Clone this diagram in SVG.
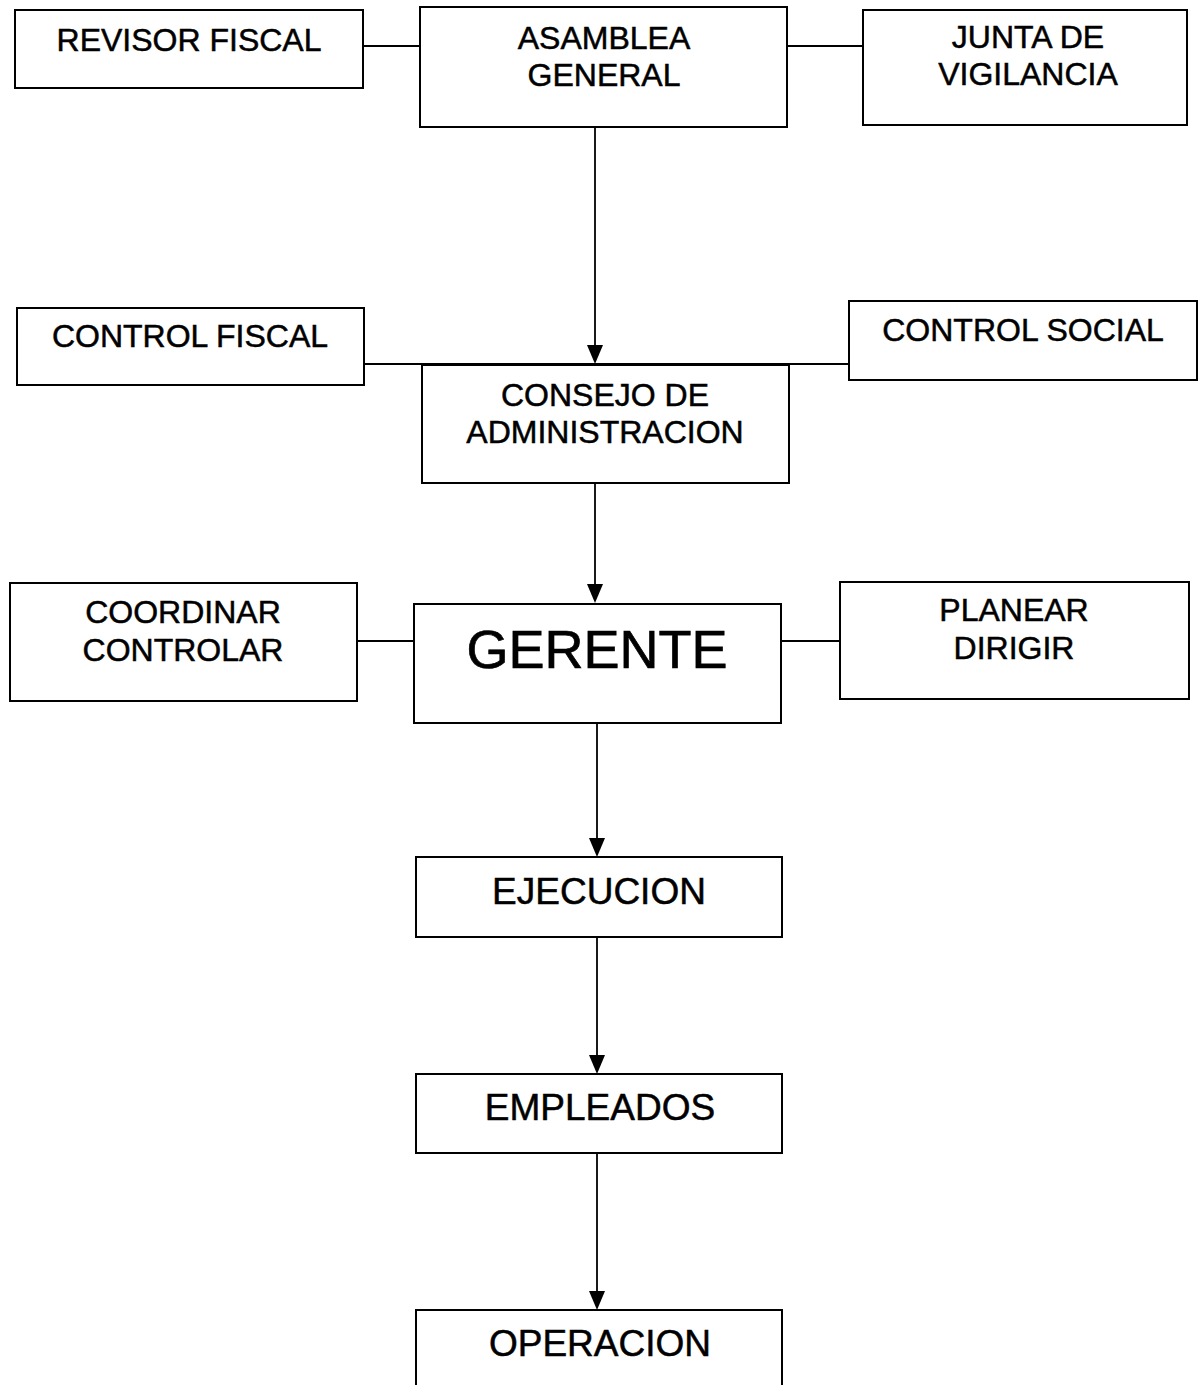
<svg xmlns="http://www.w3.org/2000/svg" width="1203" height="1385" viewBox="0 0 1203 1385">
<style>
.box{fill:#fff;stroke:#000;stroke-width:2}
.t{font-family:"Liberation Sans",Arial,sans-serif;font-size:32px;fill:#000;stroke:#000;stroke-width:0.5;text-anchor:middle}
.big{font-size:54px;stroke-width:0.7}
.mid{font-size:37px}
.ln{stroke:#000;stroke-width:1.8;fill:none}
.ah{fill:#000}
</style>
<rect width="1203" height="1385" fill="#fff"/>
<g id="connectors">
<line class="ln" x1="363" y1="46" x2="420" y2="46"/>
<line class="ln" x1="787" y1="46" x2="863" y2="46"/>
<line class="ln" x1="364" y1="364" x2="849" y2="364"/>
<line class="ln" x1="357" y1="641" x2="414" y2="641"/>
<line class="ln" x1="781" y1="641" x2="840" y2="641"/>
<line class="ln" x1="595" y1="127" x2="595" y2="346"/>
<path class="ah" d="M587,345 L603,345 L595,364 Z"/>
<line class="ln" x1="595" y1="483" x2="595" y2="585"/>
<path class="ah" d="M587,584 L603,584 L595,603 Z"/>
<line class="ln" x1="597" y1="723" x2="597" y2="839"/>
<path class="ah" d="M589,838 L605,838 L597,857 Z"/>
<line class="ln" x1="597" y1="937" x2="597" y2="1056"/>
<path class="ah" d="M589,1055 L605,1055 L597,1074 Z"/>
<line class="ln" x1="597" y1="1153" x2="597" y2="1292"/>
<path class="ah" d="M589,1291 L605,1291 L597,1310 Z"/>
</g>
<g id="revisor-fiscal">
<rect class="box" x="15" y="10" width="348" height="78"/>
<text class="t" x="189" y="51">REVISOR FISCAL</text>
</g>
<g id="asamblea-general">
<rect class="box" x="420" y="7" width="367" height="120"/>
<text class="t" x="604" y="49">ASAMBLEA</text>
<text class="t" x="604" y="86">GENERAL</text>
</g>
<g id="junta-vigilancia">
<rect class="box" x="863" y="10" width="324" height="115"/>
<text class="t" x="1028" y="48">JUNTA DE</text>
<text class="t" x="1028" y="85">VIGILANCIA</text>
</g>
<g id="control-fiscal">
<rect class="box" x="17" y="308" width="347" height="77"/>
<text class="t" x="190" y="347">CONTROL FISCAL</text>
</g>
<g id="control-social">
<rect class="box" x="849" y="301" width="348" height="79"/>
<text class="t" x="1023" y="341">CONTROL SOCIAL</text>
</g>
<g id="consejo">
<rect class="box" x="422" y="365" width="367" height="118"/>
<text class="t" x="605" y="406">CONSEJO DE</text>
<text class="t" x="605" y="443">ADMINISTRACION</text>
</g>
<g id="coordinar">
<rect class="box" x="10" y="583" width="347" height="118"/>
<text class="t" x="183" y="623">COORDINAR</text>
<text class="t" x="183" y="661">CONTROLAR</text>
</g>
<g id="gerente">
<rect class="box" x="414" y="604" width="367" height="119"/>
<text class="t big" x="597" y="668">GERENTE</text>
</g>
<g id="planear">
<rect class="box" x="840" y="582" width="349" height="117"/>
<text class="t" x="1014" y="621">PLANEAR</text>
<text class="t" x="1014" y="659">DIRIGIR</text>
</g>
<g id="ejecucion">
<rect class="box" x="416" y="857" width="366" height="80"/>
<text class="t mid" x="599" y="904">EJECUCION</text>
</g>
<g id="empleados">
<rect class="box" x="416" y="1074" width="366" height="79"/>
<text class="t mid" x="600" y="1120">EMPLEADOS</text>
</g>
<g id="operacion">
<rect class="box" x="416" y="1310" width="366" height="90"/>
<text class="t mid" x="600" y="1356">OPERACION</text>
</g>
</svg>
